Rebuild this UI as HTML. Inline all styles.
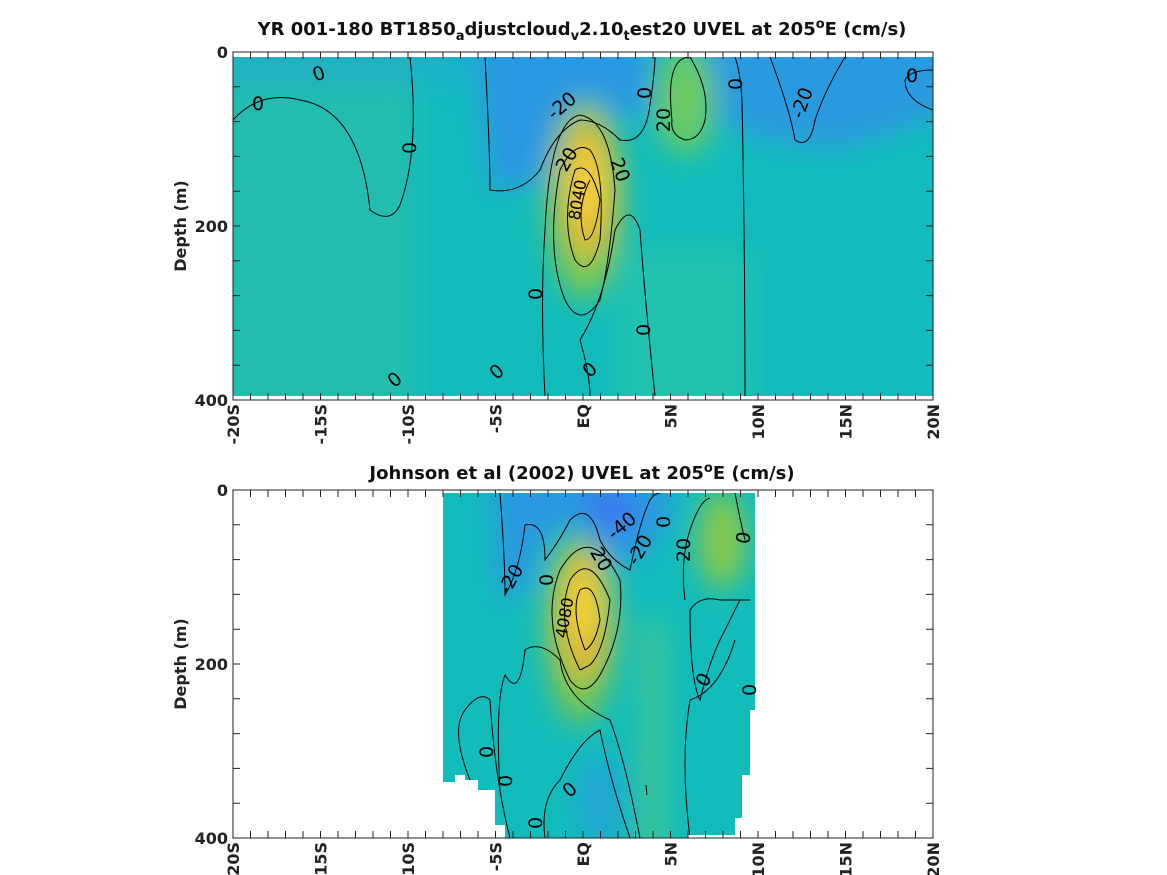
<!DOCTYPE html>
<html><head><meta charset="utf-8"><style>
body{margin:0;background:#fff;}
svg{display:block;font-family:"DejaVu Sans","Liberation Sans",sans-serif;}
</style></head><body>
<svg width="1167" height="875" viewBox="0 0 1167 875" xmlns="http://www.w3.org/2000/svg">
<defs>
<filter id="bl" filterUnits="userSpaceOnUse" x="0" y="0" width="1167" height="875"><feGaussianBlur stdDeviation="14"/></filter>
<clipPath id="c1"><rect x="233" y="57" width="700" height="339"/></clipPath>
<clipPath id="c2"><path d="M443,493 H755 V710 H750 V775 H742 V818 H735 V835 H688 V838 H505 V825 H495 V790 H478 V780 H465 V775 H455 V782 H443 Z"/></clipPath>
</defs>

<!-- TOP PANEL -->
<g clip-path="url(#c1)">
<rect x="233" y="57" width="700" height="339" fill="#12bcbb"/>
<g filter="url(#bl)">
<rect x="180" y="30" width="233" height="400" fill="#26bda8" opacity="0.7"/>
<path d="M470,20 H650 V120 L600,110 L560,180 L490,190 Z" fill="#2a98e2"/>
<path d="M700,20 H960 V110 L840,150 L760,140 L720,120 Z" fill="#2a9ae0"/>
<rect x="180" y="20" width="303" height="67" fill="#21aad0" opacity="0.6"/>
<ellipse cx="685" cy="100" rx="30" ry="55" fill="#6ccb5f"/>
<ellipse cx="585" cy="200" rx="38" ry="100" fill="#7cc850"/>
<ellipse cx="588" cy="190" rx="26" ry="70" fill="#e3b934"/>
<ellipse cx="588" cy="185" rx="15" ry="40" fill="#f9d23a"/>
<rect x="620" y="250" width="130" height="180" fill="#2ec6a6" opacity="0.6"/>
</g>
<g fill="none" stroke="#000" stroke-width="1">
<path d="M233,120 Q260,90 300,100 Q360,110 370,210 Q390,225 400,205 Q420,150 410,57"/>
<path d="M485,57 Q490,150 490,190 Q520,195 540,170 Q555,130 580,120 Q600,120 620,140 Q645,145 650,105 Q655,70 655,57"/>
<path d="M545,396 Q540,300 545,230 Q550,120 580,115 Q610,120 615,190 Q610,260 600,300 Q580,330 565,300 Q545,250 560,170 Q575,140 590,150 Q605,170 600,240 Q590,280 575,260 Q560,220 575,170 Q590,160 600,200 Q595,240 585,240 Q575,210 590,180"/>
<path d="M655,396 Q645,300 640,230 Q630,200 615,230 Q605,300 580,340 Q590,375 590,396"/>
<path d="M672,120 Q665,57 690,57 Q710,90 705,120 Q700,140 685,140 Q670,135 672,120"/>
<path d="M745,396 Q745,250 742,100 Q740,70 735,57"/>
<path d="M770,57 Q790,110 795,140 Q810,150 815,120 Q825,90 845,57"/>
<path d="M933,110 Q905,100 905,80 Q910,70 933,70"/>
</g>
</g>
<rect x="233" y="52" width="700" height="348" fill="none" stroke="#222" stroke-width="1"/>
<g font-size="19" fill="#000" text-anchor="middle">
<text x="319" y="80" transform="rotate(-20 319 74)">0</text>
<text x="258" y="110">0</text>
<text x="416" y="148" transform="rotate(-90 416 148)">0</text>
<text x="562" y="112" transform="rotate(-40 562 106)">-20</text>
<text x="645" y="99" transform="rotate(-90 645 93)">0</text>
<text x="670" y="120" transform="rotate(-90 670 120)">20</text>
<text x="742" y="84" transform="rotate(-90 742 84)">0</text>
<text x="808" y="105" transform="rotate(-70 808 105)">-20</text>
<text x="912" y="82">0</text>
<text x="568" y="165" transform="rotate(-60 568 160)">20</text>
<text x="614" y="172" transform="rotate(70 614 172)">20</text>
<text x="578" y="205" font-size="16" transform="rotate(-80 578 200)">8040</text>
<text x="542" y="294" transform="rotate(-90 542 294)">0</text>
<text x="650" y="330" transform="rotate(-90 650 330)">0</text>
<text x="590" y="376" transform="rotate(-40 590 370)">0</text>
<text x="497" y="378" transform="rotate(-40 497 372)">0</text>
<text x="395" y="386" transform="rotate(-40 395 380)">0</text>
</g>

<!-- BOTTOM PANEL -->
<g clip-path="url(#c2)">
<rect x="430" y="490" width="340" height="360" fill="#12bcbb"/>
<g filter="url(#bl)">
<path d="M490,470 H670 V520 L640,560 L600,560 L580,520 L540,540 L530,590 L500,600 Z" fill="#2a98e2"/>
<ellipse cx="610" cy="510" rx="25" ry="22" fill="#3a78f0"/>
<ellipse cx="722" cy="540" rx="24" ry="50" fill="#8ac84a"/>
<rect x="640" y="620" width="25" height="240" fill="#4cc889" opacity="0.8"/>
<ellipse cx="580" cy="630" rx="35" ry="95" fill="#7ac550"/>
<ellipse cx="583" cy="615" rx="24" ry="65" fill="#e6b736"/>
<ellipse cx="585" cy="605" rx="14" ry="38" fill="#f9d535"/>
<ellipse cx="600" cy="800" rx="22" ry="45" fill="#2a9ae0" opacity="0.7"/>
</g>
<g fill="none" stroke="#000" stroke-width="1">
<path d="M500,493 Q505,560 505,595 Q520,570 525,525 Q545,520 545,560 Q560,540 570,520 Q590,500 600,540 Q610,560 630,570 Q640,520 650,500 Q655,493 660,493"/>
<path d="M470,780 Q450,730 465,710 Q480,690 490,700 Q495,780 510,838"/>
<path d="M500,790 Q495,700 505,675 Q520,700 525,650 Q540,640 560,660 Q565,700 610,720 Q625,760 640,838"/>
<path d="M545,838 Q540,800 560,780 Q580,740 600,730 Q610,780 630,838"/>
<path d="M570,680 Q540,620 560,570 Q590,520 620,580 Q625,630 600,675 Q585,700 570,680"/>
<path d="M580,670 Q555,620 570,580 Q590,550 610,600 Q605,650 590,665 Q580,670 580,670"/>
<path d="M585,650 Q570,610 580,590 Q595,580 600,620 Q595,645 585,650"/>
<path d="M685,600 Q680,560 690,530 Q700,500 710,498"/>
<path d="M750,600 Q730,600 720,600 Q700,595 690,610 Q690,680 700,700 Q710,660 720,640 Q730,620 740,600"/>
<path d="M690,838 Q680,760 690,700 Q720,690 735,640"/>
<path d="M735,493 Q740,520 745,540"/>
<path d="M646,785 L647,795"/>
</g>
</g>
<rect x="233" y="490" width="700" height="348" fill="none" stroke="#222" stroke-width="1"/>
<g font-size="19" fill="#000" text-anchor="middle">
<text x="622" y="532" transform="rotate(-40 622 526)">-40</text>
<text x="664" y="528" transform="rotate(-90 664 522)">0</text>
<text x="640" y="556" transform="rotate(-60 640 550)">-20</text>
<text x="512" y="585" transform="rotate(-60 512 580)">-20</text>
<text x="548" y="585" transform="rotate(-90 548 580)">0</text>
<text x="600" y="565" transform="rotate(60 600 560)">20</text>
<text x="685" y="555" transform="rotate(-90 685 550)">20</text>
<text x="745" y="543" transform="rotate(-80 745 538)">0</text>
<text x="566" y="622" font-size="16" transform="rotate(-80 566 618)">4080</text>
<text x="704" y="686" transform="rotate(-60 704 680)">0</text>
<text x="750" y="696" transform="rotate(-90 750 690)">0</text>
<text x="488" y="757" transform="rotate(-90 488 752)">0</text>
<text x="507" y="786" transform="rotate(-90 507 781)">0</text>
<text x="570" y="796" transform="rotate(-40 570 790)">0</text>
<text x="537" y="828" transform="rotate(-90 537 823)">0</text>
</g>

<!-- ticks -->
<g stroke="#222" stroke-width="1" id="tk">
<path d="M233,52v7M250.5,52v7M268,52v7M285.5,52v7M303,52v7M320.5,52v7M338,52v7M355.5,52v7M373,52v7M390.5,52v7M408,52v7M425.5,52v7M443,52v7M460.5,52v7M478,52v7M495.5,52v7M513,52v7M530.5,52v7M548,52v7M565.5,52v7M583,52v7M600.5,52v7M618,52v7M635.5,52v7M653,52v7M670.5,52v7M688,52v7M705.5,52v7M723,52v7M740.5,52v7M758,52v7M775.5,52v7M793,52v7M810.5,52v7M828,52v7M845.5,52v7M863,52v7M880.5,52v7M898,52v7M915.5,52v7M933,52v7"/>
</g>
<use href="#tk" transform="translate(0,341)"/>
<use href="#tk" transform="translate(0,438)"/>
<use href="#tk" transform="translate(0,779)"/>
<g stroke="#222" stroke-width="1" id="ty">
<path d="M233,86.8h7M233,121.6h7M233,156.4h7M233,191.2h7M233,226h7M233,260.8h7M233,295.6h7M233,330.4h7M233,365.2h7M926,86.8h7M926,121.6h7M926,156.4h7M926,191.2h7M926,226h7M926,260.8h7M926,295.6h7M926,330.4h7M926,365.2h7"/>
</g>
<use href="#ty" transform="translate(0,438)"/>

<g font-size="16" font-weight="bold" fill="#222" text-anchor="end">
<text x="228" y="58">0</text><text x="228" y="232">200</text><text x="228" y="406">400</text>
<text x="228" y="496">0</text><text x="228" y="670">200</text><text x="228" y="844">400</text>
</g>
<g font-size="16" font-weight="bold" fill="#222">
<text transform="translate(186,226) rotate(-90)" text-anchor="middle">Depth (m)</text>
<text transform="translate(186,664) rotate(-90)" text-anchor="middle">Depth (m)</text>
</g>
<g font-size="16" font-weight="bold" fill="#222" text-anchor="end" id="xl">
<text transform="translate(239,404) rotate(-90)">-20S</text>
<text transform="translate(326.5,404) rotate(-90)">-15S</text>
<text transform="translate(414,404) rotate(-90)">-10S</text>
<text transform="translate(501.5,404) rotate(-90)">-5S</text>
<text transform="translate(589,404) rotate(-90)">EQ</text>
<text transform="translate(676.5,404) rotate(-90)">5N</text>
<text transform="translate(764,404) rotate(-90)">10N</text>
<text transform="translate(851.5,404) rotate(-90)">15N</text>
<text transform="translate(939,404) rotate(-90)">20N</text>
</g>
<use href="#xl" transform="translate(0,438)"/>
<g font-size="18" font-weight="bold" fill="#111" text-anchor="middle">
<text x="582" y="35">YR 001-180 BT1850<tspan font-size="13" dy="5">a</tspan><tspan dy="-5">djustcloud</tspan><tspan font-size="13" dy="5">v</tspan><tspan dy="-5">2.10</tspan><tspan font-size="13" dy="5">t</tspan><tspan dy="-5">est20 UVEL at 205</tspan><tspan font-size="13" dy="-7">o</tspan><tspan dy="7">E (cm/s)</tspan></text>
<text x="582" y="479">Johnson et al (2002) UVEL at 205<tspan font-size="13" dy="-7">o</tspan><tspan dy="7">E (cm/s)</tspan></text>
</g>
</svg>
</body></html>
